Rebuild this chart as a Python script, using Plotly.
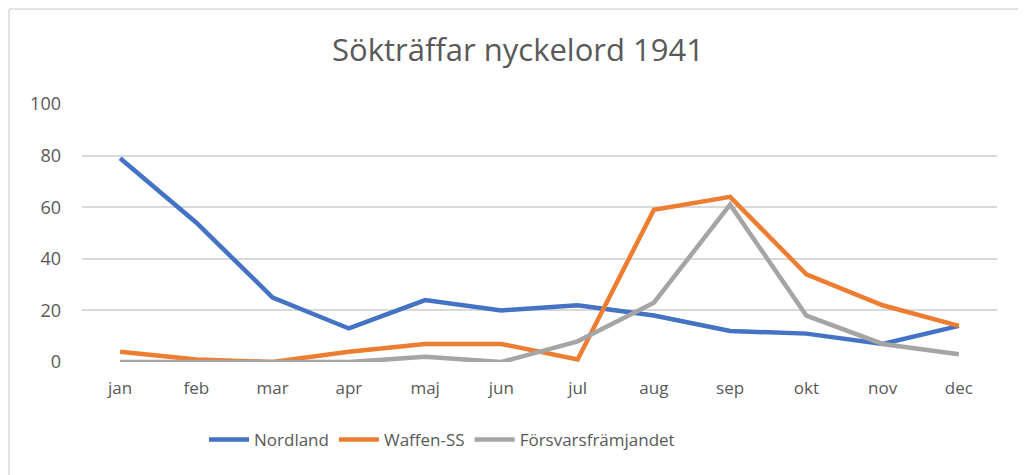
import plotly.graph_objects as go

months = ["jan", "feb", "mar", "apr", "maj", "jun", "jul", "aug", "sep", "okt", "nov", "dec"]
nordland = [79, 54, 25, 13, 24, 20, 22, 18, 12, 11, 7, 14]
waffen_ss = [4, 1, 0, 4, 7, 7, 1, 59, 64, 34, 22, 14]
forsvar = [0, 0, 0, 0, 2, 0, 8, 23, 61, 18, 7, 3]
y_ticks = [0, 20, 40, 60, 80, 100]

series = [
    ("Nordland", nordland, "#4472C4"),
    ("Waffen-SS", waffen_ss, "#ED7D31"),
    ("Försvarsfrämjandet", forsvar, "#A5A5A5"),
]

fig = go.Figure()
for name, vals, col in series:
    fig.add_trace(go.Scatter(x=months, y=vals, name=name, mode="lines",
                             line=dict(color=col, width=4.5)))

OFF = 8  # page body margin
W, H = 1026 - OFF, 475 - OFF
L, R, T, B = 82 - OFF, 29, 104 - OFF, 113
pw, ph = W - L - R, H - T - B

def px(x):
    return (x - OFF - L) / pw

def py(y):
    return 1 - (y - OFF - T) / ph

fig.update_layout(
    width=W, height=H,
    margin=dict(l=L, r=R, t=T, b=B),
    paper_bgcolor="white", plot_bgcolor="white",
    font=dict(family="Open Sans", color="#595959"),
    title=dict(text="Sökträffar nyckelord 1941", x=px(518), xref="paper", xanchor="center",
               y=1 - (50 - OFF) / H, yanchor="middle", yref="container",
               font=dict(size=31, color="#595959")),
    xaxis=dict(showgrid=False, showline=False, ticks="", tickfont=dict(size=17),
               range=[-0.5, 11.5], ticklabelstandoff=14),
    yaxis=dict(range=[0, 100], tickvals=y_ticks, gridcolor="#D9D9D9", gridwidth=1.5,
               zeroline=False, showline=False, ticks="", tickfont=dict(size=18),
               ticklabelstandoff=20),
    legend=dict(orientation="h", x=px(442), xanchor="center", y=py(440), yanchor="middle",
                font=dict(size=17, color="#595959"), itemwidth=40),
    showlegend=True,
    shapes=[
        dict(type="line", xref="paper", yref="paper", x0=px(9), x1=px(1040), y0=py(9), y1=py(9),
             line=dict(color="#D9D9D9", width=1.5)),
        dict(type="line", xref="paper", yref="paper", x0=px(9), x1=px(9), y0=py(9), y1=py(490),
             line=dict(color="#D9D9D9", width=1.5)),
    ],
)

fig.write_html("out.html")
